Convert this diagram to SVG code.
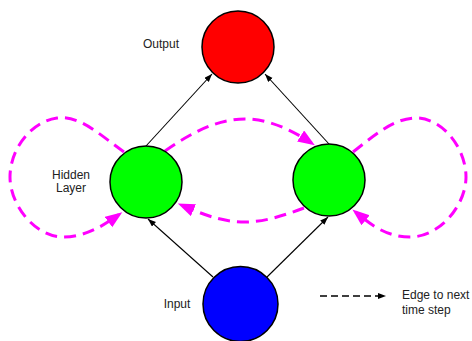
<svg xmlns="http://www.w3.org/2000/svg" width="472" height="341" viewBox="0 0 472 341">
<style>
.node{stroke:#000;stroke-width:1.5}
.edge{fill:none;stroke:#000;stroke-width:1.1}
.rec{fill:none;stroke:#f0f;stroke-width:3;stroke-dasharray:12,7}
.leg{fill:none;stroke:#000;stroke-width:1.6;stroke-dasharray:7,4}
.lbl{font-family:"Liberation Sans",Arial,sans-serif;font-size:12px;fill:#222}
</style>
<defs>
<marker id="ah" markerUnits="userSpaceOnUse" markerWidth="9" markerHeight="7" refX="8" refY="3" orient="auto">
<path d="M0,0 L8,3 L0,6 z" fill="#000"/>
</marker>
<marker id="mh" markerUnits="userSpaceOnUse" markerWidth="18" markerHeight="14" refX="13" refY="6.5" orient="auto">
<path d="M0,0 L17,6.5 L0,13 z" fill="#f0f"/>
</marker>
</defs>
<g id="connectors">
<line class="edge" x1="146" y1="146" x2="212" y2="74" marker-end="url(#ah)"/>
<line class="edge" x1="329" y1="144" x2="265" y2="74" marker-end="url(#ah)"/>
<line class="edge" x1="213" y1="277" x2="148" y2="219" marker-end="url(#ah)"/>
<line class="edge" x1="267" y1="277" x2="328" y2="217" marker-end="url(#ah)"/>
<path class="rec" d="M124,152 C100,135 80,115 57,118 C30,122 10,150 10,177 C10,205 35,237 63,237 C85,237 103,226 119,214.5" marker-end="url(#mh)"/>
<path class="rec" d="M165,151 C195,130 220,119 245,119 C270,119 293,131 311.5,143" marker-end="url(#mh)"/>
<path class="rec" d="M353,152 C375,135 395,117 418,118 C445,120 466,150 466,177 C466,205 440,237 410,237 C385,237 369,223 355.5,212" marker-end="url(#mh)"/>
<path class="rec" d="M304,208 C285,215 265,222 245,222 C220,222 200,213 181.5,205" marker-end="url(#mh)"/>
<line class="leg" x1="320" y1="296" x2="386" y2="296" marker-end="url(#ah)"/>
</g>
<g id="output"><circle class="node" cx="238" cy="47" r="36" fill="#f00"/><text class="lbl" x="161" y="48" text-anchor="middle">Output</text></g>
<g id="hidden-left"><circle class="node" cx="146" cy="182" r="36" fill="#0f0"/><text class="lbl" x="71" y="179" text-anchor="middle">Hidden</text><text class="lbl" x="71" y="192" text-anchor="middle">Layer</text></g>
<g id="hidden-right"><circle class="node" cx="329" cy="180" r="36" fill="#0f0"/></g>
<g id="input"><circle class="node" cx="240.5" cy="304" r="37.5" fill="#00f"/><text class="lbl" x="177" y="308" text-anchor="middle">Input</text></g>
<g id="legend"><text class="lbl" x="402" y="299">Edge to next</text><text class="lbl" x="402" y="314">time step</text></g>
</svg>
